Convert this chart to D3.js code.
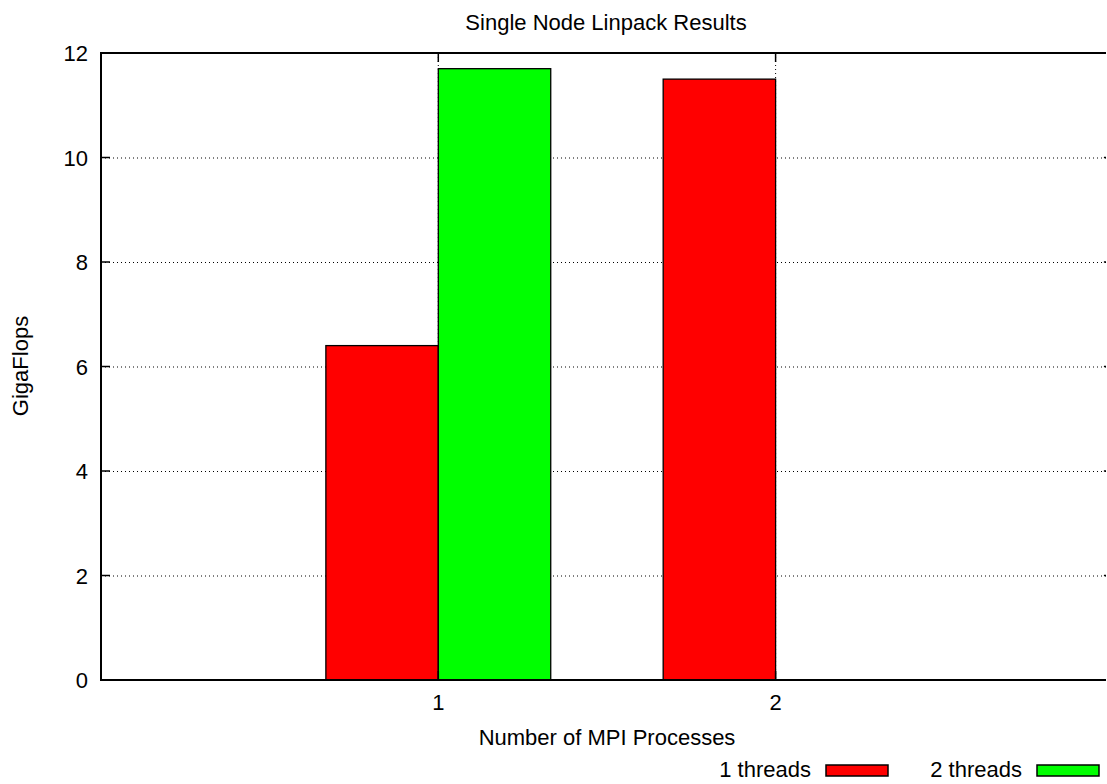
<!DOCTYPE html>
<html>
<head>
<meta charset="utf-8">
<script src="https://cdn.jsdelivr.net/npm/d3@7"></script>
<style>
  body { margin: 0; background: #fff; overflow: hidden; }
  svg { display: block; overflow: hidden; }
  text { font-family: "Liberation Sans", Arial, sans-serif; font-size: 22px; fill: #000; }
</style>
</head>
<body>
<div id="chart"></div>
<script>
const processes = [1, 2];
const series = ["1 threads", "2 threads"];
const colors = ["#ff0000", "#00ff00"];
const gflops_1thread = [6.4, 11.5];
const gflops_2thread = [11.7, null];
const yTicks = [0, 2, 4, 6, 8, 10, 12];

const width = 1107, height = 784;
const plotLeft = 101, plotTop = 53, plotBottom = 680;

const svg = d3.select("#chart").append("svg")
    .attr("width", width).attr("height", height);

// picture is cut off just before the right border
svg.append("clipPath").attr("id", "cut").append("rect")
    .attr("x", 0).attr("y", 0).attr("width", 1106).attr("height", height);
const g = svg.append("g").attr("clip-path", "url(#cut)");

const x = d3.scaleLinear().domain([0, 3]).range([plotLeft, plotLeft + 3 * 337.3]);
const y = d3.scaleLinear().domain([0, 12]).range([plotBottom, plotTop]);
const plotRight = x(3);

// grid lines (dotted)
const grid = g.append("g").attr("stroke", "#000").attr("stroke-width", 1)
    .attr("stroke-dasharray", "1,3");
grid.selectAll(".hg").data(yTicks.slice(1, -1)).enter().append("line")
    .attr("x1", plotLeft).attr("x2", plotRight)
    .attr("y1", d => y(d) + 0.5).attr("y2", d => y(d) + 0.5);
grid.selectAll(".vg").data(processes).enter().append("line")
    .attr("x1", d => x(d)).attr("x2", d => x(d))
    .attr("y1", plotTop).attr("y2", plotBottom);

// bars
const bw = 1 / 3;
const data = [gflops_1thread, gflops_2thread];
data.forEach((vals, i) => {
    g.append("g").selectAll("rect")
        .data(processes.map((p, j) => ({ p, v: vals[j] })).filter(d => d.v != null))
        .enter().append("rect")
        .attr("x", d => x(d.p - bw + i * bw))
        .attr("width", x(bw) - x(0))
        .attr("y", d => y(d.v))
        .attr("height", d => y(0) - y(d.v))
        .attr("fill", colors[i])
        .attr("stroke", "#000").attr("stroke-width", 1.3);
});

// ticks (mirrored on all sides)
const ticks = g.append("g").attr("stroke", "#000").attr("stroke-width", 1.5);
ticks.selectAll(".ly").data(yTicks).enter().append("line")
    .attr("x1", plotLeft).attr("x2", plotLeft + 9)
    .attr("y1", d => y(d)).attr("y2", d => y(d));
ticks.selectAll(".ry").data(yTicks).enter().append("line")
    .attr("x1", plotRight - 9).attr("x2", plotRight)
    .attr("y1", d => y(d)).attr("y2", d => y(d));
ticks.selectAll(".bx").data(processes).enter().append("line")
    .attr("x1", d => x(d)).attr("x2", d => x(d))
    .attr("y1", plotBottom).attr("y2", plotBottom - 9);
ticks.selectAll(".tx").data(processes).enter().append("line")
    .attr("x1", d => x(d)).attr("x2", d => x(d))
    .attr("y1", plotTop).attr("y2", plotTop + 9);

// border
g.append("rect")
    .attr("x", plotLeft).attr("y", plotTop)
    .attr("width", plotRight - plotLeft).attr("height", plotBottom - plotTop)
    .attr("fill", "none").attr("stroke", "#000").attr("stroke-width", 2);

// tick labels
g.append("g").selectAll("text").data(yTicks).enter().append("text")
    .attr("x", 88).attr("y", d => y(d) + 8)
    .attr("text-anchor", "end").text(d => d);
g.append("g").selectAll("text").data(processes).enter().append("text")
    .attr("x", d => x(d)).attr("y", 710)
    .attr("text-anchor", "middle").text(d => d);

// titles
g.append("text").attr("x", 606).attr("y", 30)
    .attr("text-anchor", "middle").text("Single Node Linpack Results");
g.append("text").attr("x", 607).attr("y", 745)
    .attr("text-anchor", "middle").text("Number of MPI Processes");
g.append("text")
    .attr("transform", "translate(28,366) rotate(-90)")
    .attr("text-anchor", "middle").text("GigaFlops");

// legend
const legend = g.append("g").selectAll("g").data(series).enter().append("g")
    .attr("transform", (d, i) => `translate(${811 + i * 211},0)`);
legend.append("text").attr("x", 0).attr("y", 777)
    .attr("text-anchor", "end").text(d => d);
legend.append("rect")
    .attr("x", 15).attr("y", 765).attr("width", 62).attr("height", 11)
    .attr("fill", (d, i) => colors[i])
    .attr("stroke", "#000").attr("stroke-width", 1.5);
</script>
</body>
</html>
